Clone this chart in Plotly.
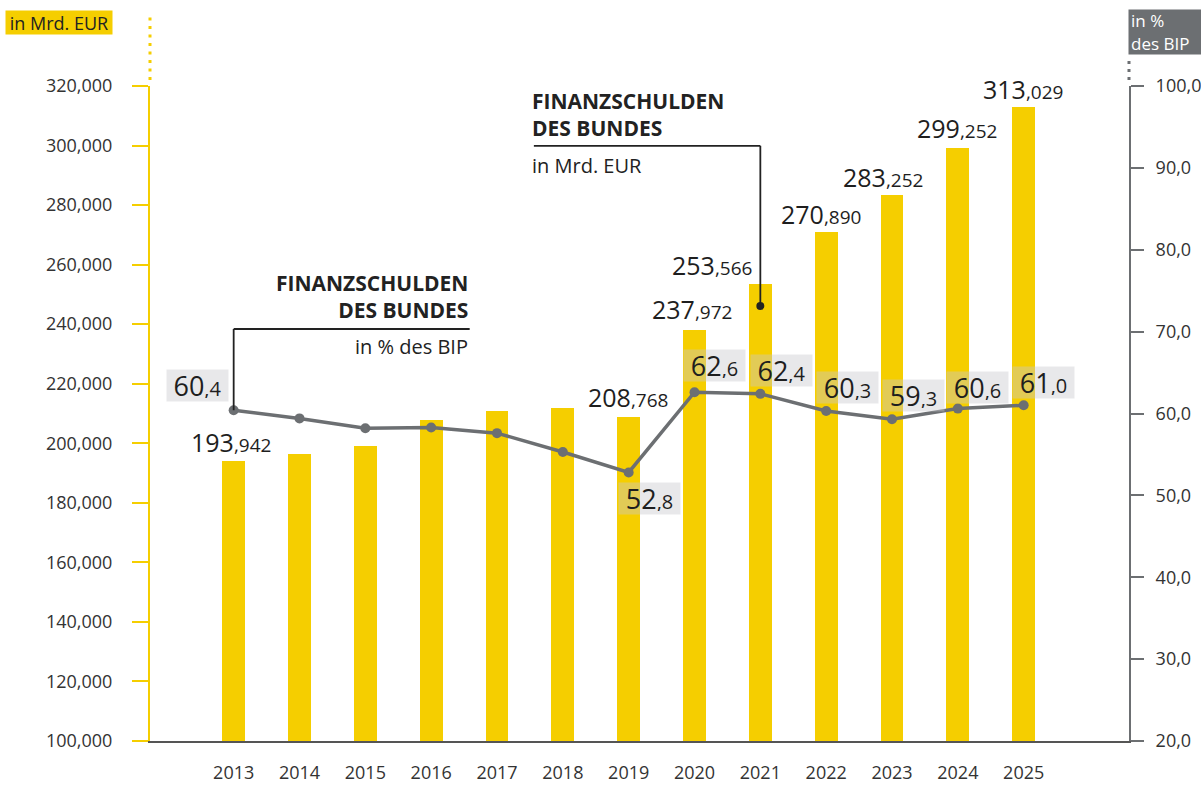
import plotly.graph_objects as go

# ---------------- data ----------------
years = ["2013", "2014", "2015", "2016", "2017", "2018", "2019",
         "2020", "2021", "2022", "2023", "2024", "2025"]
debt_mrd = [193.942, 196.4, 199.1, 207.8, 210.9, 212.0, 208.768,
            237.972, 253.566, 270.890, 283.252, 299.252, 313.029]
ratio_bip = [60.4, 59.4, 58.2, 58.3, 57.6, 55.3, 52.8,
             62.6, 62.4, 60.3, 59.3, 60.6, 61.0]
debt_show_label = [True, False, False, False, False, False, True,
                   True, True, True, True, True, True]
ratio_show_label = [True, False, False, False, False, False, True,
                    True, True, True, True, True, True]
left_ticks = [100, 120, 140, 160, 180, 200, 220, 240, 260, 280, 300, 320]
right_ticks = [20, 30, 40, 50, 60, 70, 80, 90, 100]

# ---------------- styles ----------------
YELLOW = "#F5CE00"
GRAY = "#6C6F72"
TXT = "#1E1E1E"
FONT = "Open Sans"

# label offsets (pixels) – style only
debt_lbl_dx = [-3, 0, 0, 0, 0, 0, -1, -3, -48, -5, -9, -1, -1]
debt_lbl_dy = [19, 0, 0, 0, 0, 0, 20, 21, 19, 18, 18, 20, 18]
ratio_lbl_dx = [-36, 0, 0, 0, 0, 0, 21, 20, 21, 21, 21, 20, 20]
ratio_lbl_dy = [25, 0, 0, 0, 0, 0, -26, 27, 23, 24, 24, 21, 23]

idx = list(range(len(years)))

fig = go.Figure()
fig.add_trace(go.Bar(x=idx, y=debt_mrd, width=0.345, marker=dict(color=YELLOW, line=dict(width=0)),
                     yaxis="y", hoverinfo="skip", showlegend=False))
fig.add_trace(go.Scatter(x=idx, y=ratio_bip, yaxis="y2", mode="lines+markers",
                         line=dict(color=GRAY, width=3.5),
                         marker=dict(size=10, color=GRAY),
                         hoverinfo="skip", showlegend=False))

annotations = []

# bar value labels
for i, (v, show) in enumerate(zip(debt_mrd, debt_show_label)):
    if not show:
        continue
    a, b = f"{v:.3f}".split(".")
    annotations.append(dict(
        x=i, y=v, xref="x", yref="y", showarrow=False,
        text=f"{a}<span style='font-size:19px'>,{b}</span>",
        font=dict(family=FONT, size=25, color=TXT),
        xanchor="center", yanchor="middle",
        xshift=debt_lbl_dx[i], yshift=debt_lbl_dy[i]))

# ratio labels with boxes
for i, (v, show) in enumerate(zip(ratio_bip, ratio_show_label)):
    if not show:
        continue
    a, b = f"{v:.1f}".split(".")
    annotations.append(dict(
        x=i, y=v, xref="x", yref="y2", showarrow=False,
        text=f"{a}<span style='font-size:20px'>,{b}</span>",
        font=dict(family=FONT, size=27, color=TXT),
        bgcolor="rgba(200,200,206,0.42)", borderpad=3, width=55, height=25,
        xanchor="center", yanchor="middle",
        xshift=ratio_lbl_dx[i], yshift=ratio_lbl_dy[i]))

# axis unit boxes
annotations.append(dict(
    x=-0.093, y=1.097, xref="paper", yref="paper", showarrow=False,
    text="in Mrd. EUR", font=dict(family=FONT, size=18, color="#222"),
    bgcolor=YELLOW, borderpad=0, width=106, height=23,
    xanchor="center", yanchor="middle"))
annotations.append(dict(
    x=1.0368, y=1.0824, xref="paper", yref="paper", showarrow=False,
    text="in %<br>des BIP", font=dict(family=FONT, size=17, color="white"),
    bgcolor=GRAY, borderpad=2, width=68, height=40, align="left",
    xanchor="center", yanchor="middle"))

# callout 1 (ratio)
c1_right = 3.585
c1_line_y2 = 70.32
annotations.append(dict(
    x=c1_right, y=0.678, xref="x", yref="paper", showarrow=False,
    text="<b>FINANZSCHULDEN<br>DES BUNDES</b>", align="right",
    font=dict(family=FONT, size=21, color="#222"),
    xanchor="right", yanchor="middle"))
annotations.append(dict(
    x=c1_right, y=0.603, xref="x", yref="paper", showarrow=False,
    text="in % des BIP", align="right",
    font=dict(family=FONT, size=20, color="#222"),
    xanchor="right", yanchor="middle"))

# callout 2 (debt)
c2_left = 4.56
c2_line_y = 299.9
c2_dot_y = 246.1
annotations.append(dict(
    x=c2_left, y=0.956, xref="x", yref="paper", showarrow=False,
    text="<b>FINANZSCHULDEN<br>DES BUNDES</b>", align="left",
    font=dict(family=FONT, size=21, color="#222"),
    xanchor="left", yanchor="middle", xshift=-4))
annotations.append(dict(
    x=c2_left, y=0.878, xref="x", yref="paper", showarrow=False,
    text="in Mrd. EUR", align="left",
    font=dict(family=FONT, size=20, color="#222"),
    xanchor="left", yanchor="middle", xshift=-4))

shapes = [
    # dotted axis extensions
    dict(type="line", xref="paper", yref="paper", x0=0, x1=0, y0=1.009, y1=1.11,
         line=dict(color=YELLOW, width=3, dash="3px,5.5px")),
    dict(type="line", xref="paper", yref="paper", x0=1, x1=1, y0=1.009, y1=1.045,
         line=dict(color=GRAY, width=3, dash="3px,5px")),
    # callout 1 leader
    dict(type="line", xref="x", yref="y2", x0=0, x1=0, y0=ratio_bip[0], y1=c1_line_y2,
         line=dict(color="#222", width=1.8)),
    dict(type="line", xref="x", yref="y2", x0=0, x1=c1_right, y0=c1_line_y2, y1=c1_line_y2,
         line=dict(color="#222", width=1.8)),
    # callout 2 leader
    dict(type="line", xref="x", yref="y", x0=8, x1=8, y0=c2_dot_y, y1=c2_line_y,
         line=dict(color="#222", width=1.8)),
    dict(type="line", xref="x", yref="y", x0=c2_left, x1=8, y0=c2_line_y, y1=c2_line_y,
         line=dict(color="#222", width=1.8)),
    dict(type="circle", xref="x", yref="y", xsizemode="pixel", ysizemode="pixel",
         xanchor=8, yanchor=c2_dot_y, x0=-4, x1=4, y0=-4, y1=4,
         fillcolor="#222", line=dict(width=0)),
]

fig.update_layout(
    width=1201, height=785, autosize=False,
    margin=dict(l=150, r=72, t=86, b=44, autoexpand=False),
    paper_bgcolor="white", plot_bgcolor="white",
    separators=",.",
    font=dict(family=FONT, size=18, color="#333"),
    showlegend=False,
    bargap=0,
    xaxis=dict(range=[-1.271, 13.6], tickvals=idx, ticktext=years, automargin=False,
               showline=True, linecolor="#555", linewidth=2, ticks="",
               showgrid=False, zeroline=False, ticklabelstandoff=14,
               tickfont=dict(family=FONT, size=18, color="#333"), fixedrange=True),
    yaxis=dict(range=[100, 320], tickvals=left_ticks, tickformat=".3f", automargin=False,
               showline=True, linecolor=YELLOW, linewidth=2,
               ticks="outside", ticklen=16, tickwidth=2, tickcolor=YELLOW,
               showgrid=False, zeroline=False, ticklabelstandoff=16,
               tickfont=dict(family=FONT, size=18, color="#333")),
    yaxis2=dict(range=[20, 100], tickvals=right_ticks, tickformat=".1f", automargin=False,
                overlaying="y", side="right",
                showline=True, linecolor=GRAY, linewidth=2,
                ticks="outside", ticklen=13, tickwidth=2, tickcolor=GRAY,
                showgrid=False, zeroline=False, ticklabelstandoff=8,
                tickfont=dict(family=FONT, size=18, color="#333")),
    annotations=annotations,
    shapes=shapes,
)

fig.write_html("out.html")
